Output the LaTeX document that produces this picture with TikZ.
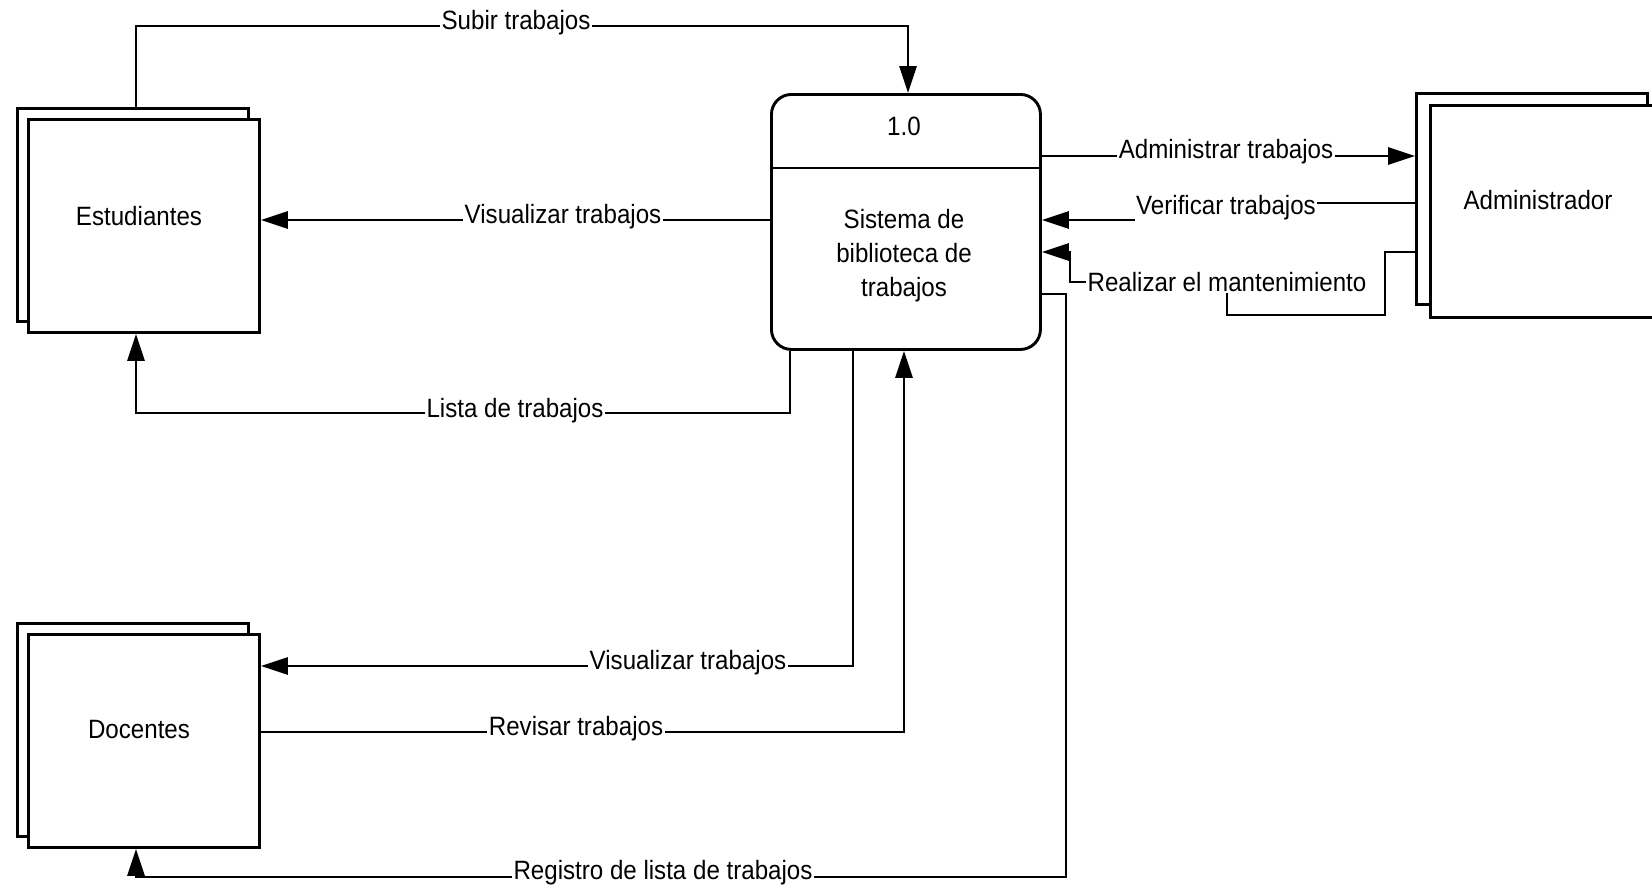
\documentclass[tikz,border=0pt]{standalone}
\usepackage{fontspec}
\setmainfont[FakeStretch=0.91]{Liberation Sans}
\usetikzlibrary{arrows.meta,calc}
\begin{document}
\begin{tikzpicture}[x=1pt,y=-1pt,
  every node/.style={font=\fontsize{26.5}{34}\selectfont},
  ent/.style={draw,line width=2.9pt,fill=white,minimum width=231pt,minimum height=213pt,inner sep=0pt,anchor=north west},
  flow/.style={line width=2.9pt,-{Triangle[length=27pt,width=17pt]}},
  plain/.style={line width=2.9pt},
  lbl/.style={fill=white,inner sep=1.5pt}]
\useasboundingbox (0,0) rectangle (1652,889);
% entities
\node[ent] (estb) at (16,107) {};
\node[ent] (est) at (27,118) {};
\node (estt) at (139,216) {Estudiantes};
\node[ent] (docb) at (16,622) {};
\node[ent] (doc) at (27,633) {};
\node (doct) at (139,730) {Docentes};
\node[ent,minimum height=211pt] (admb) at (1415,92) {};
\node[ent,minimum width=236pt,minimum height=212pt] (adm) at (1429,104) {};
\node (admt) at (1538,200) {Administrador};
% process
\node[draw,line width=2.9pt,rounded corners=20pt,minimum width=269pt,minimum height=255pt,anchor=north west] (proc) at (770,93) {};
\draw[plain] (proc.west |- 0,168) -- (proc.east |- 0,168);
\node (pnum) at (904,126) {1.0};
\node[align=center] (pname) at (904,256) {Sistema de\\biblioteca de\\trabajos};
% flows
\draw[flow] (estb.north -| 136,0) |- (908,26) -- (proc.north -| 908,0);
\node[lbl] (l1) at (516,23) {Subir trabajos};
\draw[flow] (proc.west |- 0,220) -- (est.east |- 0,220);
\node[lbl] (l2) at (563,217) {Visualizar trabajos};
\draw[flow] (proc.south -| 790,0) |- (136,413) -- (est.south -| 136,0);
\node[lbl] (l3) at (515,411) {Lista de trabajos};
\draw[flow] (proc.south -| 853,0) |- (doc.east |- 0,666);
\node[lbl] (l4) at (688,663) {Visualizar trabajos};
\draw[flow] (doc.east |- 0,732) -| (proc.south -| 904,0);
\node[lbl] (l5) at (576,729) {Revisar trabajos};
\draw[flow] (proc.east |- 0,294) -- (1066,294) |- (136,877) -- (doc.south -| 136,0);
\node[lbl] (l6) at (663,873) {Registro de lista de trabajos};
\draw[flow] (proc.east |- 0,156) -- (admb.west |- 0,156);
\node[lbl] (l7) at (1226,152) {Administrar trabajos};
\draw[flow] (admb.west |- 0,203) -- (1226,203) -- (1226,220) -- (proc.east |- 0,220);
\node[lbl] (l8) at (1226,208) {Verificar trabajos};
\draw[flow] (admb.west |- 0,252) -- (1385,252) -- (1385,315) -- (1227,315) -- (1227,282) -- (1070,282) -- (1070,252) -- (proc.east |- 0,252);
\node[lbl] (l9) at (1227,282) {Realizar el mantenimiento};
\end{tikzpicture}
\end{document}
